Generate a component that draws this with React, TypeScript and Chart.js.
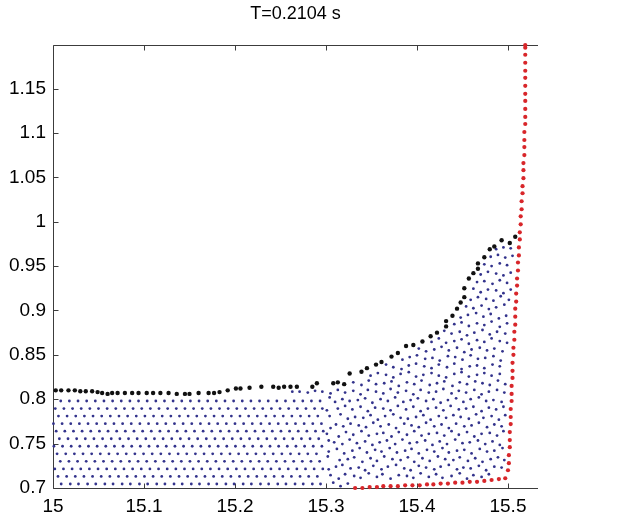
import React, { useEffect, useRef } from "react";
import { Chart, registerables } from "chart.js";

Chart.register(...registerables);

const titleText = "T=0.2104 s";
const xMin = 15;
const xMax = 15.533;
const yMin = 0.7;
const yMax = 1.199;
const xStep = 0.1;
const yStep = 0.05;

// Left (ordered) fluid particles: one y per row, x in thousandths beyond 15
const leftRowY = [0.7045, 0.713, 0.7215, 0.73, 0.7385, 0.747, 0.7555, 0.764, 0.7725, 0.781, 0.7895, 0.798];
const leftRowX = [
  [9,19,28,38,47,57,66,76,85,95,104,114,123,133,142,152,161,171,180,190,199,209,218,228,237,247,256,266,275,285,294],
  [5.5,15,24.5,34,43.5,53,62.5,72,81.5,91,100.5,110,119.5,129,138.5,148,157.5,167,176.5,186,195.5,205,214.5,224,233.5,243,252.5,262,271.5,281,290.5],
  [2,11.5,21,30.5,40,49.5,59,68.5,78,87.5,97,106.5,116,125.5,135,144.5,154,163.5,173,182.5,192,201.5,211,220.5,230,239.5,249,258.5,268,277.5,287,296.5],
  [8,17.5,27,36.5,46,55.5,65,74.5,84,93.5,103,112.5,122,131.5,141,150.5,160,169.5,179,188.5,198,207.5,217,226.5,236,245.5,255,264.5,274,283.5,293],
  [4.5,14,23.5,33,42.5,52,61.5,71,80.5,90,99.5,109,118.5,128,137.5,147,156.5,166,175.5,185,194.5,204,213.5,223,232.5,242,251.5,261,270.5,280,289.5],
  [1,10.5,20,29.5,39,48.5,58,67.5,77,86.5,96,105.5,115,124.5,134,143.5,153,162.5,172,181.5,191,200.5,210,219.5,229,238.5,248,257.5,267,276.5,286,295.5],
  [7,16.5,26,35.5,45,54.5,64,73.5,83,92.5,102,111.5,121,130.5,140,149.5,159,168.5,178,187.5,197,206.5,216,225.5,235,244.5,254,263.5,273,282.5,292],
  [3.5,13,22.5,32,41.5,51,60.5,70,79.5,89,98.5,108,117.5,127,136.5,146,155.5,165,174.5,184,193.5,203,212.5,222,231.5,241,250.5,260,269.5,279,288.5,297],
  [0.5,10,19.5,29,38.5,48,57.5,67,76.5,86,95.5,105,114.5,124,133.5,143,152.5,162,171.5,181,190.5,200,209.5,219,228.5,238,247.5,257,266.5,276,285.5,295],
  [6,15.5,25,34.5,44,53.5,63,72.5,82,91.5,101,110.5,120,129.5,139,148.5,158,167.5,177,186.5,196,205.5,215,224.5,234,243.5,253,262.5,272,281.5,291],
  [2.5,12,21.5,31,40.5,50,59.5,69,78.5,88,97.5,107,116.5,126,135.5,145,154.5,164,173.5,183,192.5,202,211.5,221,230.5,240,249.5,259,268.5,278,287.5,296],
  [8.5,18,27.5,37,46.5,56,65.5,75,84.5,94,103.5,113,122.5,132,141.5,151,160.5,170,179.5,189,198.5,208,217.5,227,236.5,246,255.5,265,274.5,284,293.5],
];

// Right (disordered) fluid particles: base y per row, x in thousandths beyond 15, y scatter in thousandths
const rightRowY = [
  0.704, 0.7135, 0.723, 0.7325, 0.742, 0.7515, 0.761, 0.7705, 0.78, 0.7895, 0.799,
  0.8085, 0.818, 0.8275, 0.837, 0.8465, 0.856, 0.8655, 0.875, 0.8845, 0.894,
  0.9035, 0.913, 0.9225, 0.932, 0.9415, 0.951, 0.9605, 0.97,
];
const rightRowX = [
  [308,316,324],
  [305,314,321,331,338,347,356,362,371,380,389,396,404,413,421,428,438,447,455,462,471,479],
  [303,311,318,327,336,343,352,361,368,377,386,393,402,410,419,426,435,444,451,459,468,476,485,493],
  [302,315,324,331,340,349,356,364,373,382,390,397,406,414,423,431,440,447,456,464,472,481,489,496],
  [303,312,320,329,337,345,354,361,370,378,387,394,402,411,419,428,435,444,452,460,469,477,485,494],
  [303,309,318,326,334,343,351,359,367,376,384,392,400,409,417,425,433,442,450,458,467,475,483,491],
  [301,314,322,330,339,347,356,363,372,380,389,397,405,413,422,430,438,446,455,463,471,480,488,495],
  [305,311,319,327,336,344,352,360,369,377,386,394,402,410,419,427,435,443,452,460,468,477,485,493],
  [304,316,324,332,341,349,357,365,374,382,390,399,407,415,424,432,440,448,457,465,473,482,490,497],
  [301,313,321,329,338,346,354,363,371,379,388,396,404,412,421,429,437,446,454,462,471,479,487,495],
  [304,310,318,326,335,343,351,360,368,376,385,393,401,410,418,426,434,443,451,459,468,476,484,493],
  [263,271,280,288,296,305,313,321,330,338,346,355,363,371,379,388,396,404,413,421,429,438,446,454,463,471,479,488,496],
  [330,339,347,355,364,372,380,389,397,405,414,422,430,439,447,455,464,472,480,489,497],
  [349,357,366,374,382,391,399,407,416,424,432,441,449,457,466,474,482,491],
  [366,374,383,391,399,408,416,424,433,441,449,458,466,474,483,491],
  [384,392,400,409,417,425,434,442,450,459,467,475,484,492],
  [402,410,419,427,435,444,452,460,469,477,485,494],
  [416,424,432,441,449,457,466,474,482,491,499],
  [430,438,447,455,463,472,480,488,497],
  [441,449,457,466,474,482,491,499],
  [448,456,465,473,481,490,498],
  [454,462,471,479,487,496],
  [459,467,476,484,492,501],
  [462,470,478,487,495,503],
  [466,474,483,491,499],
  [470,478,487,495,503],
  [474,482,491,499],
  [481,489,497,505],
  [487,495,503],
];
const rightRowDY = [
  [2,-2,1],
  [1,-3,2,0,-2,3,-1,2,-3,1,0,-2,3,-1,2,-2,0,3,-3,1,-1,2],
  [-2,1,3,-1,0,-3,2,-2,1,3,-1,-3,2,0,-2,1,3,-2,0,-1,2,-3,1,0],
  [3,-1,0,2,-3,1,-2,3,0,-1,2,-3,1,-2,3,0,-1,2,-2,1,-3,0,2,-1],
  [-1,2,-3,0,3,-2,1,-1,3,-2,0,2,-3,1,-1,3,-2,0,1,-3,2,-1,0,3],
  [2,0,-2,3,-1,1,-3,0,2,-2,3,-1,0,2,-3,1,-2,3,-1,0,2,-2,1,-3],
  [0,-3,2,-1,3,-2,0,1,-3,2,-1,3,-2,0,1,-2,3,-1,2,-3,0,1,-2,3],
  [-3,1,-1,2,0,-2,3,-1,1,-3,2,0,-2,3,-1,1,-3,2,-1,0,3,-2,1,-1],
  [1,3,-2,0,-1,2,-3,1,3,-1,-2,0,2,-3,1,-1,2,0,-2,3,-1,1,-3,2],
  [-2,0,3,-1,2,-3,1,0,-2,3,-1,2,-3,0,1,-2,3,-1,0,2,-3,1,-1,2],
  [3,-2,1,-1,0,2,-3,1,-1,3,-2,0,2,-1,1,-3,0,2,-2,1,3,-1,0,-2],
  [0,0,-1,1,0,-2,2,-1,1,-3,2,0,-2,3,-1,1,-3,2,-1,0,3,-2,1,-1,2,-3,0,2,-1],
  [1,-2,3,-1,0,2,-3,1,-1,3,-2,0,2,-3,1,-1,2,0,-2,3,-1],
  [-1,2,0,-3,1,3,-2,0,2,-1,-3,1,3,-2,0,2,-1,1],
  [2,-1,-3,1,3,0,-2,2,-1,3,-3,0,1,-2,2,0],
  [-2,1,3,-1,0,-3,2,1,-2,3,-1,0,2,-3],
  [1,-2,0,3,-1,2,-3,0,2,-1,1,-2],
  [-1,3,-2,0,2,-3,1,-1,3,0,-2],
  [2,-1,1,-3,0,3,-2,1,-1],
  [0,2,-2,1,-1,3,-3,1],
  [-2,1,3,-1,2,-3,0],
  [1,-1,2,-2,0,3],
  [-1,2,0,-2,3,-1],
  [2,-2,1,0,-3,1],
  [0,1,-2,2,-1],
  [-1,2,0,-2,1],
  [1,-1,2,0],
  [0,2,-1,1],
  [-1,1,0],
];

// Free-surface particles
const surfaceX = [
  15.003, 15.009, 15.017, 15.024, 15.03, 15.036, 15.043, 15.049, 15.054, 15.06, 15.065, 15.071,
  15.079, 15.087, 15.094, 15.103, 15.11, 15.118, 15.127, 15.136, 15.145, 15.15, 15.16, 15.171,
  15.177, 15.183, 15.192, 15.201, 15.206, 15.216, 15.229, 15.242, 15.248, 15.254, 15.261, 15.268,
  15.285, 15.29, 15.308, 15.313, 15.32, 15.326, 15.339, 15.345, 15.355, 15.361, 15.372, 15.379,
  15.388, 15.396, 15.406, 15.415, 15.422, 15.432, 15.432, 15.439, 15.444, 15.448, 15.452, 15.452,
  15.457, 15.462, 15.467, 15.467, 15.474, 15.48, 15.485, 15.493, 15.502, 15.508,
];
const surfaceY = [
  0.81, 0.81, 0.81, 0.81, 0.809, 0.809, 0.809, 0.808, 0.807, 0.806, 0.807, 0.807,
  0.807, 0.807, 0.807, 0.807, 0.807, 0.807, 0.807, 0.806, 0.806, 0.806, 0.807, 0.807,
  0.807, 0.808, 0.81, 0.812, 0.812, 0.813, 0.814, 0.814, 0.813, 0.814, 0.814, 0.814,
  0.814, 0.818, 0.818, 0.819, 0.817, 0.829, 0.831, 0.835, 0.839, 0.842, 0.848, 0.852,
  0.86, 0.861, 0.865, 0.871, 0.875, 0.882, 0.888, 0.894, 0.902, 0.909, 0.915, 0.925,
  0.936, 0.942, 0.947, 0.953, 0.96, 0.969, 0.972, 0.979, 0.976, 0.983,
];

// Boundary (wall) particles: bottom, then vertical wall
const wallX = [
  15.332, 15.34, 15.348, 15.356, 15.363, 15.371, 15.379, 15.387, 15.395, 15.403, 15.411,
  15.418, 15.426, 15.434, 15.442, 15.45, 15.458, 15.466, 15.474, 15.482, 15.49, 15.497,
  15.5, 15.501, 15.501, 15.502, 15.502, 15.502, 15.503, 15.503, 15.503, 15.504, 15.504,
  15.504, 15.505, 15.505, 15.505, 15.506, 15.506, 15.507, 15.507, 15.508, 15.508, 15.508,
  15.509, 15.509, 15.51, 15.51, 15.511, 15.511, 15.512, 15.512, 15.513, 15.513, 15.514,
  15.514, 15.515, 15.515, 15.516, 15.516, 15.517, 15.517, 15.517, 15.518, 15.518, 15.518,
  15.518, 15.519, 15.519, 15.519, 15.519, 15.519, 15.519, 15.519, 15.519, 15.519, 15.519,
  15.519, 15.519,
];
const wallY = [
  0.7, 0.7, 0.701, 0.701, 0.702, 0.702, 0.702, 0.703, 0.703, 0.703, 0.704,
  0.704, 0.705, 0.705, 0.706, 0.706, 0.707, 0.707, 0.708, 0.709, 0.71, 0.711,
  0.72, 0.728, 0.737, 0.746, 0.754, 0.763, 0.772, 0.78, 0.789, 0.798, 0.806,
  0.815, 0.824, 0.832, 0.841, 0.85, 0.858, 0.867, 0.876, 0.884, 0.893, 0.902,
  0.91, 0.919, 0.928, 0.936, 0.945, 0.954, 0.962, 0.971, 0.98, 0.988, 0.997,
  1.006, 1.014, 1.023, 1.032, 1.04, 1.049, 1.058, 1.066, 1.075, 1.084, 1.092,
  1.101, 1.11, 1.118, 1.127, 1.136, 1.144, 1.153, 1.162, 1.17, 1.179, 1.188,
  1.196, 1.199,
];

const FONT = "'Liberation Sans', Arial, Helvetica, sans-serif";

const boxPlugin = {
  id: "matlabBox",
  beforeDatasetsDraw(chart: any) {
    const { ctx, chartArea: a, scales } = chart;
    const xs = scales.x;
    const ys = scales.y;
    ctx.save();
    ctx.strokeStyle = "#3c3c3c";
    ctx.lineWidth = 1;
    ctx.beginPath();
    const L = Math.round(a.left) + 0.5;
    const T = Math.round(a.top) + 0.5;
    const B = Math.round(a.bottom) + 0.5;
    ctx.moveTo(L, B);
    ctx.lineTo(L, T);
    ctx.lineTo(a.right, T);
    ctx.moveTo(L, B);
    ctx.lineTo(a.right, B);
    xs.ticks.forEach((t: any) => {
      const px = Math.round(xs.getPixelForValue(t.value)) + 0.5;
      ctx.moveTo(px, B);
      ctx.lineTo(px, B - 5);
      ctx.moveTo(px, T);
      ctx.lineTo(px, T + 5);
    });
    ys.ticks.forEach((t: any) => {
      const py = Math.round(ys.getPixelForValue(t.value)) + 0.5;
      ctx.moveTo(L, py);
      ctx.lineTo(L + 5, py);
    });
    ctx.stroke();
    ctx.restore();
  },
};

export default function App() {
  const ref = useRef<HTMLCanvasElement | null>(null);

  useEffect(() => {
    document.body.style.margin = "0";
    const canvas = ref.current;
    if (!canvas) return;

    const blueData: { x: number; y: number }[] = [];
    leftRowX.forEach((row, i) => {
      row.forEach((v) => blueData.push({ x: xMin + v / 1000, y: leftRowY[i] }));
    });
    rightRowX.forEach((row, i) => {
      const dys = rightRowDY[i] || [];
      row.forEach((v, j) => {
        blueData.push({ x: xMin + v / 1000, y: rightRowY[i] + (dys[j] || 0) / 1000 });
      });
    });
    const surfaceData = surfaceX.map((x, i) => ({ x, y: surfaceY[i] }));
    const wallData = wallX.map((x, i) => ({ x, y: wallY[i] }));

    const chart = new Chart(canvas, {
      type: "scatter",
      data: {
        datasets: [
          {
            data: blueData,
            pointRadius: 1.4,
            pointBorderWidth: 0,
            backgroundColor: "#33338c",
            borderColor: "#33338c",
            order: 3,
            clip: false as any,
          },
          {
            data: surfaceData,
            pointRadius: 2.2,
            pointBorderWidth: 0,
            backgroundColor: "#111111",
            borderColor: "#111111",
            order: 2,
            clip: false as any,
          },
          {
            data: wallData,
            pointRadius: 2.1,
            pointBorderWidth: 0,
            backgroundColor: "#d8262a",
            borderColor: "#d8262a",
            order: 1,
            clip: false as any,
          },
        ],
      },
      options: {
        animation: false,
        responsive: false,
        maintainAspectRatio: false,
        layout: { padding: { left: 0, top: 0, bottom: 0, right: 95 } },
        plugins: {
          legend: { display: false },
          tooltip: { enabled: false },
          title: {
            display: true,
            text: titleText,
            fullSize: false,
            color: "#000",
            font: { family: FONT, size: 18, weight: "normal" as any },
            padding: { top: 3, bottom: 20.4 },
          },
        },
        scales: {
          x: {
            type: "linear",
            min: xMin,
            max: xMax,
            afterFit: (s: any) => {
              s.height = 29;
            },
            grid: { display: false, drawTicks: false },
            border: { display: false },
            ticks: {
              stepSize: xStep,
              includeBounds: false,
              autoSkip: false,
              maxRotation: 0,
              padding: 7,
              color: "#000",
              font: { family: FONT, size: 19 },
              callback: (v: any) => String(Math.round(Number(v) * 1000) / 1000),
            },
          },
          y: {
            type: "linear",
            min: yMin,
            max: yMax,
            afterFit: (s: any) => {
              s.width = 53;
            },
            grid: { display: false, drawTicks: false },
            border: { display: false },
            ticks: {
              stepSize: yStep,
              includeBounds: false,
              autoSkip: false,
              padding: 7,
              color: "#000",
              font: { family: FONT, size: 19 },
              callback: (v: any) => String(Math.round(Number(v) * 1000) / 1000),
            },
          },
        },
      },
      plugins: [boxPlugin],
    });

    return () => chart.destroy();
  }, []);

  return (
    <div style={{ width: 633, height: 517, background: "#fff" }}>
      <canvas ref={ref} width={633} height={517} style={{ display: "block" }} />
    </div>
  );
}
